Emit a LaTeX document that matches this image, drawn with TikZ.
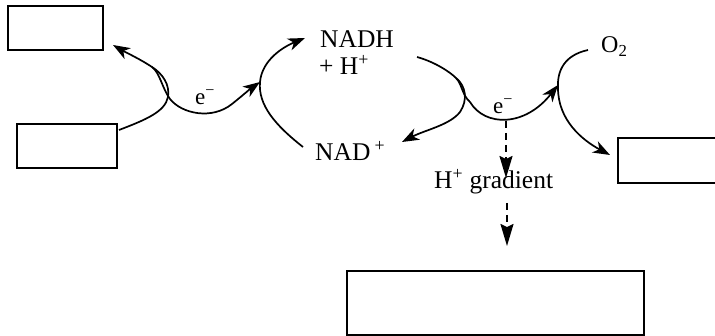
\documentclass[tikz,border=0pt]{standalone}
\usepackage{fontspec}
\setmainfont{Liberation Serif}
\usetikzlibrary{arrows.meta,calc}
\begin{document}
\begin{tikzpicture}[x=1pt,y=-1pt,
  box/.style={draw,line width=1.5pt,inner sep=0pt,rectangle},
  lbl/.style={inner sep=0pt,anchor=base west,font=\fontsize{25.5}{30}\selectfont},
  elbl/.style={inner sep=0pt,anchor=base west,font=\fontsize{23}{27}\selectfont},
  flow/.style={line width=1.7pt,-{Stealth[length=17pt,width=12.5pt,inset=5pt]}},
  grad/.style={line width=1.7pt,dash pattern=on 7pt off 5pt,-{Stealth[length=22pt,width=13pt,inset=3pt]}}]
\useasboundingbox (0,0) rectangle (715,336);
% boxes
\node[box,minimum width=95pt,minimum height=44pt] (tl) at (55.5,28) {};
\node[box,minimum width=100pt,minimum height=44pt] (bl) at (67,146) {};
\node[box,minimum width=110pt,minimum height=45pt] (rb) at (673,160.5) {};
\node[box,minimum width=297pt,minimum height=64pt] (bb) at (495.5,303) {};
% labels
\node[lbl] (nadh) at (320,48) {NADH};
\node[lbl] (hplus) at (319,75) {+ H\textsuperscript{+}};
\node[lbl] (nad) at (315,161) {NAD\,\textsuperscript{+}};
\node[lbl] (hgrad) at (434,189) {H\textsuperscript{+} gradient};
\node[lbl,font=\fontsize{24}{28}\selectfont] (o2) at (601,53) {O\textsubscript{2}};
\node[elbl] (e1) at (195,105) {e\textsuperscript{−}};
\node[elbl] (e2) at (493,114) {e\textsuperscript{−}};
% connector end points
\coordinate (a0) at (119,130);
\coordinate (a1) at (113,45);
\coordinate (b0) at (152,67);
\coordinate (b1) at (260,82);
\coordinate (c0) at (303,147);
\coordinate (c1) at (305,38);
\coordinate (d0) at (417,57);
\coordinate (d1) at (402,142);
\coordinate (e0) at (456,78);
\coordinate (e1end) at (558,85);
\coordinate (f0) at (588,50);
\coordinate (f1) at (610,155);
\coordinate (g0) at (506,121);
\coordinate (g1) at (506,178);
\coordinate (g2) at (507,203);
\coordinate (g3) at (507,246);
% left complex
\draw[flow] (a0) .. controls (145,120) and (165,112) .. (168,97)
  .. controls (170,85) and (163,74) .. (b0)
  .. controls (140,59) and (125,52) .. (a1);
\draw[flow] (b0) .. controls (160,73) and (162,88) .. (170,99)
  .. controls (182,114) and (212,120) .. (232,104)
  .. controls (242,96) and (250,89) .. (b1);
\draw[flow] (c0) .. controls (275,125) and (258,105) .. (260,82)
  .. controls (262,60) and (283,47) .. (c1);
% right complex
\draw[flow] (d0) .. controls (435,62) and (450,72) .. (e0)
  .. controls (466,86) and (468,100) .. (460,112)
  .. controls (450,125) and (425,130) .. (d1);
\draw[flow] (e0) .. controls (462,84) and (462,95) .. (470,102)
  .. controls (485,127) and (525,127) .. (e1end);
\draw[flow] (f0) .. controls (565,55) and (557,70) .. (558,88)
  .. controls (558,120) and (582,140) .. (f1);
% gradient arrows
\draw[grad] (g0) -- (g1);
\draw[grad] (g2) -- (g3);
\end{tikzpicture}
\end{document}
